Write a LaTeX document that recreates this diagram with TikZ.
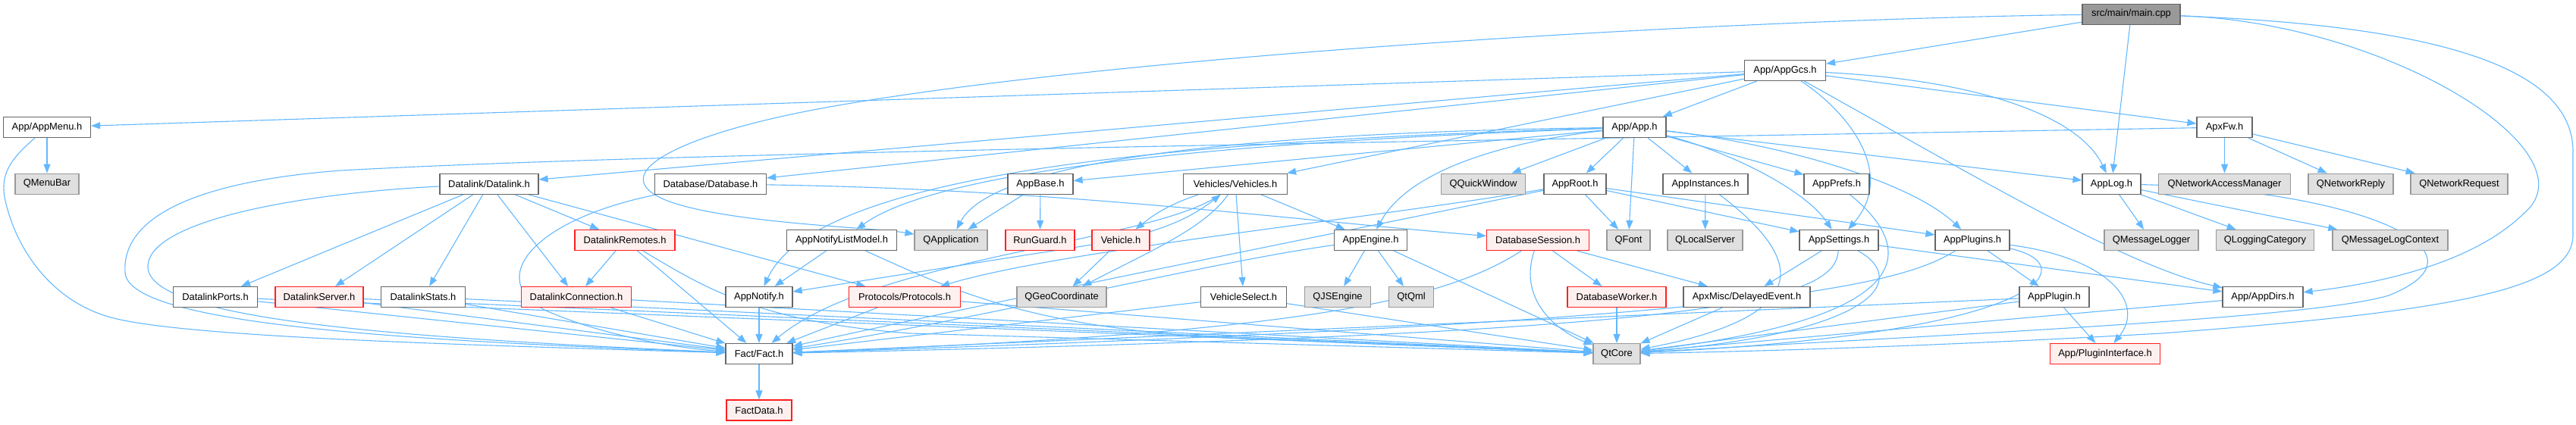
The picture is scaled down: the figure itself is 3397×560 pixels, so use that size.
\documentclass[tikz,border=0pt]{standalone}
\usepackage{fontspec}
\setmainfont{Liberation Sans}
\usetikzlibrary{arrows.meta, backgrounds}

\definecolor{edgeblue}{HTML}{63B8FF}
\definecolor{boxgray}{HTML}{666666}
\definecolor{sysfill}{HTML}{E0E0E0}
\definecolor{sysdraw}{HTML}{999999}
\definecolor{redfill}{HTML}{FFF0F0}
\definecolor{redline}{HTML}{FF2020}

\tikzstyle{file} = [rectangle, draw=boxgray, fill=white, text=black, line width=1.2pt, minimum height=27pt, inner sep=0pt, text centered, font=\fontsize{12.9}{15}\selectfont]
\tikzstyle{sysfile} = [file, draw=sysdraw, fill=sysfill]
\tikzstyle{redfile} = [file, draw=redline, fill=redfill]
\tikzstyle{rootfile} = [file, draw=boxgray, fill=sysdraw]
\tikzstyle{dep} = [draw=edgeblue, line width=1.1pt, -{Triangle[length=12pt,width=9pt]}]

\begin{document}
\begin{tikzpicture}[x=1pt, y=-1pt]
\useasboundingbox (0,0) rectangle (3397,560);

% Root
\node (main) [rootfile, minimum width=129pt] at (2810.5,18.6) {src/main/main.cpp};
\node (gcs) [file, minimum width=107pt] at (2354,93) {App/AppGcs.h};

% Second row
\node (menu) [file, minimum width=115pt] at (62,168) {App/AppMenu.h};
\node (app) [file, minimum width=83pt] at (2155.5,168) {App/App.h};
\node (apxfw) [file, minimum width=73pt] at (2933.5,168) {ApxFw.h};

% Third row
\node (menubar) [sysfile, minimum width=84pt] at (62,242.7) {QMenuBar};
\node (datalink) [file, minimum width=130pt] at (645,242.7) {Datalink/Datalink.h};
\node (database) [file, minimum width=147pt] at (937,242.7) {Database/Database.h};
\node (appbase) [file, minimum width=86pt] at (1372,242.7) {AppBase.h};
\node (vehicles) [file, minimum width=137pt] at (1629,242.7) {Vehicles/Vehicles.h};
\node (qquick) [sysfile, minimum width=111pt] at (1956,242.7) {QQuickWindow};
\node (approot) [file, minimum width=82pt] at (2077,242.7) {AppRoot.h};
\node (appinst) [file, minimum width=112pt] at (2249,242.7) {AppInstances.h};
\node (appprefs) [file, minimum width=86pt] at (2422,242.7) {AppPrefs.h};
\node (applog) [file, minimum width=77pt] at (2784.5,242.7) {AppLog.h};
\node (qnam) [sysfile, minimum width=174pt] at (2933.5,242.7) {QNetworkAccessManager};
\node (qnreply) [sysfile, minimum width=112pt] at (3100,242.7) {QNetworkReply};
\node (qnreq) [sysfile, minimum width=128pt] at (3243,242.7) {QNetworkRequest};

% Fourth row
\node (remotes) [redfile, minimum width=132pt] at (824,317) {DatalinkRemotes.h};
\node (notifylm) [file, minimum width=145pt] at (1110,317) {AppNotifyListModel.h};
\node (qapp) [sysfile, minimum width=96pt] at (1254,317) {QApplication};
\node (runguard) [redfile, minimum width=91pt] at (1371.5,317) {RunGuard.h};
\node (vehicle) [redfile, minimum width=76pt] at (1478,317) {Vehicle.h};
\node (appengine) [file, minimum width=96pt] at (1807.5,317) {AppEngine.h};
\node (dbsession) [redfile, minimum width=135pt] at (2028,317) {DatabaseSession.h};
\node (qfont) [sysfile, minimum width=57pt] at (2147.5,317) {QFont};
\node (qlocal) [sysfile, minimum width=99pt] at (2248.5,317) {QLocalServer};
\node (appsettings) [file, minimum width=104pt] at (2425,317) {AppSettings.h};
\node (appplugins) [file, minimum width=98pt] at (2601,317) {AppPlugins.h};
\node (qmlogger) [sysfile, minimum width=124pt] at (2837,317) {QMessageLogger};
\node (qlogcat) [sysfile, minimum width=129pt] at (2987,317) {QLoggingCategory};
\node (qmlogctx) [sysfile, minimum width=152pt] at (3152,317) {QMessageLogContext};

% Fifth row
\node (ports) [file, minimum width=111pt] at (284,392) {DatalinkPorts.h};
\node (server) [redfile, minimum width=116pt] at (421,392) {DatalinkServer.h};
\node (stats) [file, minimum width=111pt] at (558,392) {DatalinkStats.h};
\node (connection) [redfile, minimum width=145pt] at (760,392) {DatalinkConnection.h};
\node (notify) [file, minimum width=88pt] at (1001,392) {AppNotify.h};
\node (protocols) [redfile, minimum width=147pt] at (1193,392) {Protocols/Protocols.h};
\node (qgeo) [sysfile, minimum width=118pt] at (1400,392) {QGeoCoordinate};
\node (vselect) [file, minimum width=113pt] at (1640,392) {VehicleSelect.h};
\node (qjs) [sysfile, minimum width=87pt] at (1764,392) {QJSEngine};
\node (qtqml) [sysfile, minimum width=59pt] at (1861,392) {QtQml};
\node (dbworker) [redfile, minimum width=130pt] at (2132,392) {DatabaseWorker.h};
\node (delayed) [file, minimum width=167pt] at (2303.5,392) {ApxMisc/DelayedEvent.h};
\node (appplugin) [file, minimum width=92pt] at (2709,392) {AppPlugin.h};
\node (appdirs) [file, minimum width=106pt] at (2984,392) {App/AppDirs.h};

% Bottom rows
\node (fact) [file, minimum width=88pt] at (1001,467) {Fact/Fact.h};
\node (qtcore) [sysfile, minimum width=62pt] at (2132,467) {QtCore};
\node (plugif) [redfile, minimum width=145pt] at (2776,467) {App/PluginInterface.h};
\node (factdata) [redfile, minimum width=86pt] at (1001,541.5) {FactData.h};

\begin{scope}[on background layer]
% main.cpp
\draw[dep] (main) -- (gcs);
\draw[dep] (main) -- (applog);
\draw[dep] (main) .. controls (3150,30) and (3420,200) .. (3330,280) .. controls (3260,350) and (3130,375) .. (appdirs);
\draw[dep] (main) .. controls (3250,35) and (3393,100) .. (3393,200) -- (3393,310) .. controls (3393,380) and (3250,410) .. (2850,440) .. controls (2500,460) and (2250,465) .. (qtcore);
\draw[dep] (main) .. controls (2300,25) and (1500,70) .. (1100,140) .. controls (900,175) and (790,230) .. (880,265) .. controls (960,295) and (1150,300) .. (qapp);

% AppGcs.h
\draw[dep] (gcs) -- (menu);
\draw[dep] (gcs) -- (datalink);
\draw[dep] (gcs) -- (database);
\draw[dep] (gcs) -- (app);
\draw[dep] (gcs) -- (vehicles);
\draw[dep] (gcs) .. controls (2440,150) and (2500,230) .. (appsettings);
\draw[dep] (gcs) .. controls (2600,105) and (2740,150) .. (applog);
\draw[dep] (gcs) .. controls (2600,230) and (2800,350) .. (appdirs);
\draw[dep] (gcs) -- (apxfw);

% App.h
\draw[dep] (app) -- (appbase);
\draw[dep] (app) .. controls (1700,185) and (1250,215) .. (notifylm);
\draw[dep] (app) .. controls (1600,185) and (1080,220) .. (notify);
\draw[dep] (app) .. controls (1650,175) and (1310,210) .. (qapp);
\draw[dep] (app) .. controls (2000,185) and (1860,220) .. (appengine);
\draw[dep] (app) -- (qquick);
\draw[dep] (app) -- (approot);
\draw[dep] (app) -- (qfont);
\draw[dep] (app) -- (appinst);
\draw[dep] (app) -- (appprefs);
\draw[dep] (app) .. controls (2280,200) and (2380,250) .. (appsettings);
\draw[dep] (app) .. controls (2350,190) and (2520,240) .. (appplugins);
\draw[dep] (app) -- (applog);

% AppMenu.h and ApxFw.h
\draw[dep] (menu) -- (menubar);
\draw[dep] (menu) .. controls (20,205) and (0,225) .. (6,260) .. controls (20,330) and (70,400) .. (150,420) .. controls (250,445) and (600,455) .. (fact);
\draw[dep] (apxfw) -- (qnam);
\draw[dep] (apxfw) -- (qnreply);
\draw[dep] (apxfw) -- (qnreq);
\draw[dep] (apxfw) .. controls (2000,185) and (900,200) .. (450,225) .. controls (250,240) and (160,290) .. (165,360) .. controls (170,430) and (550,450) .. (fact);

% Datalink
\draw[dep] (datalink) -- (ports);
\draw[dep] (datalink) -- (server);
\draw[dep] (datalink) -- (stats);
\draw[dep] (datalink) -- (connection);
\draw[dep] (datalink) -- (remotes);
\draw[dep] (datalink) -- (protocols);
\draw[dep] (datalink) .. controls (400,255) and (200,290) .. (195,350) .. controls (190,420) and (500,445) .. (fact);
\draw[dep] (remotes) -- (connection);
\draw[dep] (remotes) -- (fact);
\draw[dep] (remotes) .. controls (930,380) and (1000,425) .. (1200,440) -- (qtcore);
\draw[dep] (ports) -- (fact);
\draw[dep] (ports) -- (qtcore);
\draw[dep] (server) -- (fact);
\draw[dep] (server) -- (qtcore);
\draw[dep] (stats) -- (fact);
\draw[dep] (stats) -- (qtcore);
\draw[dep] (connection) -- (fact);
\draw[dep] (connection) -- (qtcore);

% Database
\draw[dep] (database) .. controls (1400,250) and (1700,290) .. (dbsession);
\draw[dep] (database) .. controls (700,290) and (640,370) .. (720,410) .. controls (800,445) and (900,460) .. (fact);
\draw[dep] (dbsession) -- (dbworker);
\draw[dep] (dbsession) -- (delayed);
\draw[dep] (dbsession) .. controls (2000,400) and (2060,440) .. (qtcore);
\draw[dep] (dbsession) .. controls (1900,400) and (1700,440) .. (fact);
\draw[dep] (dbworker) -- (qtcore);
\draw[dep] (delayed) -- (qtcore);

% AppBase, notify
\draw[dep] (appbase) -- (qapp);
\draw[dep] (appbase) -- (runguard);
\draw[dep] (notifylm) -- (notify);
\draw[dep] (notifylm) .. controls (1250,380) and (1350,430) .. (1600,445) -- (qtcore);
\draw[dep] (notify) -- (fact);
\draw[dep] (protocols) -- (fact);
\draw[dep] (protocols) -- (qtcore);

% Vehicles
\draw[dep] (vehicles) to[bend right=10] (vehicle);
\draw[dep] (vehicle) to[bend right=10] (vehicles);
\draw[dep] (vehicles) -- (vselect);
\draw[dep] (vehicles) .. controls (1590,300) and (1520,330) .. (qgeo);
\draw[dep] (vehicles) -- (appengine);
\draw[dep] (vehicles) .. controls (1520,320) and (1150,340) .. (fact);
\draw[dep] (vehicle) -- (qgeo);
\draw[dep] (vehicle) -- (notify);
\draw[dep] (vselect) -- (fact);
\draw[dep] (vselect) -- (qtcore);

% AppRoot, AppEngine
\draw[dep] (approot) -- (qfont);
\draw[dep] (approot) -- (appsettings);
\draw[dep] (approot) -- (appplugins);
\draw[dep] (approot) .. controls (1800,290) and (1400,330) .. (protocols);
\draw[dep] (approot) .. controls (1800,300) and (1300,400) .. (fact);
\draw[dep] (appengine) -- (qjs);
\draw[dep] (appengine) -- (qtqml);
\draw[dep] (appengine) -- (qtcore);
\draw[dep] (appengine) .. controls (1600,345) and (1300,420) .. (fact);

% AppInstances, AppPrefs, AppSettings
\draw[dep] (appinst) -- (qlocal);
\draw[dep] (appinst) .. controls (2350,320) and (2430,410) .. (qtcore);
\draw[dep] (appprefs) .. controls (2530,330) and (2530,420) .. (qtcore);
\draw[dep] (appsettings) -- (delayed);
\draw[dep] (appsettings) -- (appdirs);
\draw[dep] (appsettings) .. controls (2420,400) and (2250,440) .. (fact);
\draw[dep] (appsettings) .. controls (2520,370) and (2470,440) .. (qtcore);

% Plugins
\draw[dep] (appplugins) -- (appplugin);
\draw[dep] (appplugins) .. controls (2780,340) and (2830,400) .. (plugif);
\draw[dep] (appplugins) .. controls (2500,380) and (2300,425) .. (fact);
\draw[dep] (appplugins) .. controls (2750,350) and (2700,440) .. (qtcore);
\draw[dep] (appplugin) -- (plugif);
\draw[dep] (appplugin) -- (fact);
\draw[dep] (appplugin) -- (qtcore);

% AppLog, AppDirs, Fact
\draw[dep] (applog) -- (qmlogger);
\draw[dep] (applog) -- (qlogcat);
\draw[dep] (applog) -- (qmlogctx);
\draw[dep] (applog) .. controls (3100,250) and (3300,330) .. (3150,390) .. controls (3050,420) and (2600,440) .. (qtcore);
\draw[dep] (appdirs) -- (qtcore);
\draw[dep] (fact) -- (factdata);
\end{scope}

\end{tikzpicture}
\end{document}
